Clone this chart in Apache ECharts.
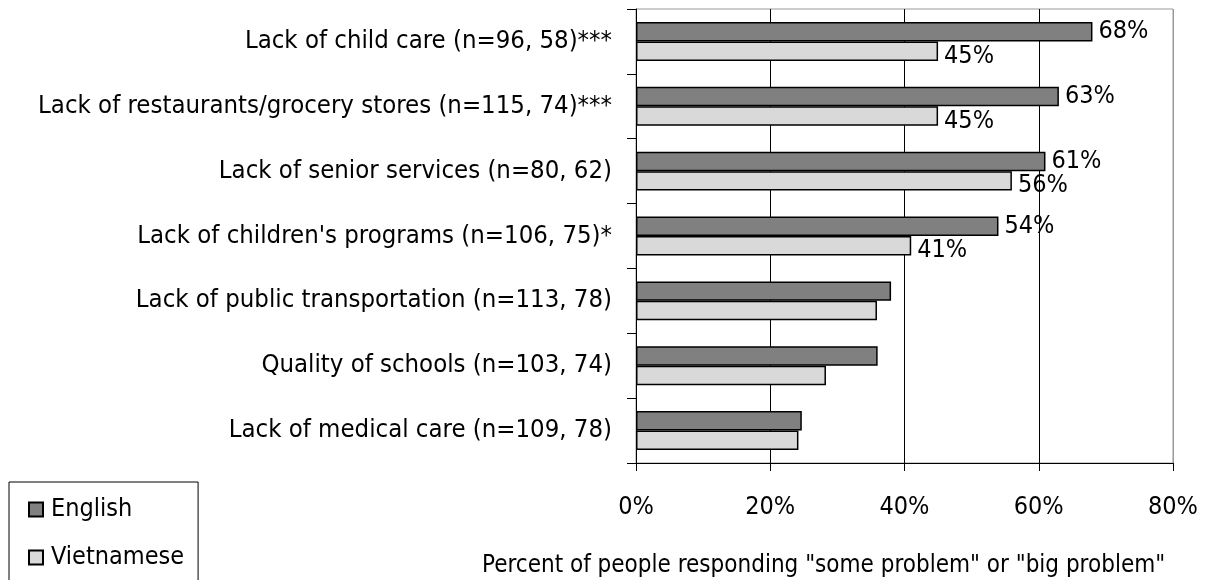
<!DOCTYPE html>
<html>
<head>
<meta charset="utf-8">
<script src="https://cdn.jsdelivr.net/npm/echarts@6/dist/echarts.min.js"></script>
<style>
  html, body { margin: 0; padding: 0; background: #fff; }
  #main { width: 1216px; height: 580px; }
</style>
</head>
<body>
<div id="main"></div>
<script>
var categories = [
  'Lack of child care (n=96, 58)***',
  'Lack of restaurants/grocery stores (n=115, 74)***',
  'Lack of senior services (n=80, 62)',
  "Lack of children's programs (n=106, 75)*",
  'Lack of public transportation (n=113, 78)',
  'Quality of schools (n=103, 74)',
  'Lack of medical care (n=109, 78)'
]
var english = [68, 63, 61, 54, 38, 36, 24.7]
var vietnamese = [45, 45, 56, 41, 35.9, 28.3, 24.2]
var labeledCount = 4
var xTicks = [0, 20, 40, 60, 80]

var font = "'DejaVu Sans Condensed', 'DejaVu Sans', sans-serif"

function withLabels(values) {
  return values.map(function (v, i) {
    return { value: v, label: { show: i < labeledCount } }
  })
}

var myChart = echarts.init(document.getElementById('main'))
myChart.setOption({
  animation: false,
  textStyle: { fontFamily: font },
  title: {
    text: 'Percent of people responding "some problem" or "big problem"',
    left: 482,
    top: 554,
    padding: 0,
    textStyle: { fontFamily: font, fontSize: 24, fontWeight: 'normal', color: '#000' }
  },
  legend: {
    orient: 'vertical',
    left: 9,
    top: 482,
    height: 200,
    padding: [15, 14, 40, 19],
    itemWidth: 14,
    itemHeight: 14,
    itemGap: 23,
    icon: 'rect',
    borderColor: '#000',
    borderWidth: 1,
    textStyle: { fontFamily: font, fontSize: 25, color: '#000', padding: [0, 0, 0, 3] },
    data: ['English', 'Vietnamese']
  },
  grid: {
    left: 636,
    right: 43,
    top: 9,
    bottom: 117,
    show: true,
    borderColor: '#999',
    borderWidth: 1
  },
  xAxis: {
    type: 'value',
    min: xTicks[0],
    max: xTicks[xTicks.length - 1],
    interval: 20,
    axisLine: { show: true, lineStyle: { color: '#000', width: 1 } },
    axisTick: { show: true, inside: false, length: 8, lineStyle: { color: '#000' } },
    axisLabel: {
      margin: 32,
      fontSize: 25,
      color: '#000',
      fontFamily: font,
      formatter: '{value}%'
    },
    splitLine: {
      show: true,
      lineStyle: { color: ['#000', '#000', '#000', '#000', '#999'], width: 1 }
    }
  },
  yAxis: {
    type: 'category',
    inverse: true,
    data: categories,
    axisLine: { show: true, lineStyle: { color: '#000', width: 1 } },
    axisTick: { show: true, inside: false, length: 9, alignWithLabel: false, lineStyle: { color: '#000' } },
    axisLabel: { margin: 24, fontSize: 25.5, color: '#000', fontFamily: font }
  },
  series: [
    {
      name: 'English',
      type: 'bar',
      data: withLabels(english),
      barGap: '0%',
      barCategoryGap: '40%',
      itemStyle: { color: '#808080', borderColor: '#000', borderWidth: 1.5 },
      label: {
        position: 'right',
        distance: 6,
        fontSize: 25,
        color: '#000',
        fontFamily: font,
        formatter: function (p) { return Math.round(p.value) + '%' }
      }
    },
    {
      name: 'Vietnamese',
      type: 'bar',
      data: withLabels(vietnamese),
      itemStyle: { color: '#d9d9d9', borderColor: '#000', borderWidth: 1.5 },
      label: {
        position: 'right',
        distance: 6,
        offset: [0, 5],
        fontSize: 25,
        color: '#000',
        fontFamily: font,
        formatter: function (p) { return Math.round(p.value) + '%' }
      }
    }
  ]
})
window.addEventListener('resize', function () {
  myChart.resize()
})
</script>
</body>
</html>
